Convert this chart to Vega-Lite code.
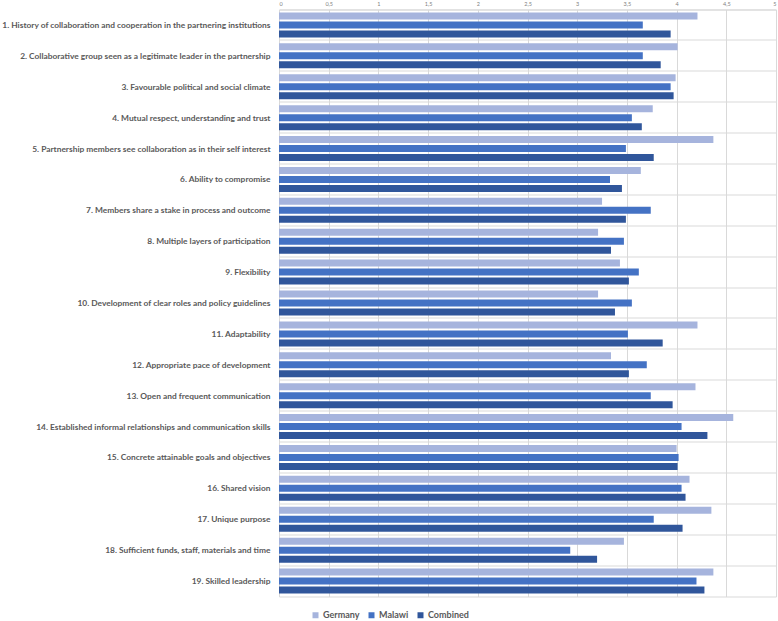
{
  "$schema": "https://vega.github.io/schema/vega-lite/v6.json",
  "autosize": {"type": "none"},
  "width": 497,
  "height": 587,
  "padding": {"left": 279, "top": 9.5, "right": 2, "bottom": 24.5},
  "background": "white",
  "config": {
    "view": {"stroke": "#d9d9d9", "strokeWidth": 1},
    "font": "Lato"
  },
  "data": {
    "values": [
      {"factor": "1. History of collaboration and cooperation in the partnering institutions", "group": "Germany", "score": 4.21},
      {"factor": "1. History of collaboration and cooperation in the partnering institutions", "group": "Malawi", "score": 3.66},
      {"factor": "1. History of collaboration and cooperation in the partnering institutions", "group": "Combined", "score": 3.94},
      {"factor": "2. Collaborative group seen as a legitimate leader in the partnership", "group": "Germany", "score": 4.01},
      {"factor": "2. Collaborative group seen as a legitimate leader in the partnership", "group": "Malawi", "score": 3.66},
      {"factor": "2. Collaborative group seen as a legitimate leader in the partnership", "group": "Combined", "score": 3.84},
      {"factor": "3. Favourable political and social climate", "group": "Germany", "score": 3.99},
      {"factor": "3. Favourable political and social climate", "group": "Malawi", "score": 3.94},
      {"factor": "3. Favourable political and social climate", "group": "Combined", "score": 3.97},
      {"factor": "4. Mutual respect, understanding and trust", "group": "Germany", "score": 3.76},
      {"factor": "4. Mutual respect, understanding and trust", "group": "Malawi", "score": 3.55},
      {"factor": "4. Mutual respect, understanding and trust", "group": "Combined", "score": 3.65},
      {"factor": "5. Partnership members see collaboration as in their self interest", "group": "Germany", "score": 4.37},
      {"factor": "5. Partnership members see collaboration as in their self interest", "group": "Malawi", "score": 3.49},
      {"factor": "5. Partnership members see collaboration as in their self interest", "group": "Combined", "score": 3.77},
      {"factor": "6. Ability to compromise", "group": "Germany", "score": 3.64},
      {"factor": "6. Ability to compromise", "group": "Malawi", "score": 3.33},
      {"factor": "6. Ability to compromise", "group": "Combined", "score": 3.45},
      {"factor": "7. Members share a stake in process and outcome", "group": "Germany", "score": 3.25},
      {"factor": "7. Members share a stake in process and outcome", "group": "Malawi", "score": 3.74},
      {"factor": "7. Members share a stake in process and outcome", "group": "Combined", "score": 3.49},
      {"factor": "8. Multiple layers of participation", "group": "Germany", "score": 3.21},
      {"factor": "8. Multiple layers of participation", "group": "Malawi", "score": 3.47},
      {"factor": "8. Multiple layers of participation", "group": "Combined", "score": 3.34},
      {"factor": "9. Flexibility", "group": "Germany", "score": 3.43},
      {"factor": "9. Flexibility", "group": "Malawi", "score": 3.62},
      {"factor": "9. Flexibility", "group": "Combined", "score": 3.52},
      {"factor": "10. Development of clear roles and policy guidelines", "group": "Germany", "score": 3.21},
      {"factor": "10. Development of clear roles and policy guidelines", "group": "Malawi", "score": 3.55},
      {"factor": "10. Development of clear roles and policy guidelines", "group": "Combined", "score": 3.38},
      {"factor": "11. Adaptability", "group": "Germany", "score": 4.21},
      {"factor": "11. Adaptability", "group": "Malawi", "score": 3.51},
      {"factor": "11. Adaptability", "group": "Combined", "score": 3.86},
      {"factor": "12. Appropriate pace of development", "group": "Germany", "score": 3.34},
      {"factor": "12. Appropriate pace of development", "group": "Malawi", "score": 3.70},
      {"factor": "12. Appropriate pace of development", "group": "Combined", "score": 3.52},
      {"factor": "13. Open and frequent communication", "group": "Germany", "score": 4.19},
      {"factor": "13. Open and frequent communication", "group": "Malawi", "score": 3.74},
      {"factor": "13. Open and frequent communication", "group": "Combined", "score": 3.96},
      {"factor": "14. Established informal relationships and communication skills", "group": "Germany", "score": 4.57},
      {"factor": "14. Established informal relationships and communication skills", "group": "Malawi", "score": 4.05},
      {"factor": "14. Established informal relationships and communication skills", "group": "Combined", "score": 4.31},
      {"factor": "15. Concrete attainable goals and objectives", "group": "Germany", "score": 4.00},
      {"factor": "15. Concrete attainable goals and objectives", "group": "Malawi", "score": 4.02},
      {"factor": "15. Concrete attainable goals and objectives", "group": "Combined", "score": 4.01},
      {"factor": "16. Shared vision", "group": "Germany", "score": 4.13},
      {"factor": "16. Shared vision", "group": "Malawi", "score": 4.05},
      {"factor": "16. Shared vision", "group": "Combined", "score": 4.09},
      {"factor": "17. Unique purpose", "group": "Germany", "score": 4.35},
      {"factor": "17. Unique purpose", "group": "Malawi", "score": 3.77},
      {"factor": "17. Unique purpose", "group": "Combined", "score": 4.06},
      {"factor": "18. Sufficient funds, staff, materials and time", "group": "Germany", "score": 3.47},
      {"factor": "18. Sufficient funds, staff, materials and time", "group": "Malawi", "score": 2.93},
      {"factor": "18. Sufficient funds, staff, materials and time", "group": "Combined", "score": 3.20},
      {"factor": "19. Skilled leadership", "group": "Germany", "score": 4.37},
      {"factor": "19. Skilled leadership", "group": "Malawi", "score": 4.20},
      {"factor": "19. Skilled leadership", "group": "Combined", "score": 4.28}
    ]
  },
  "mark": {"type": "bar"},
  "encoding": {
    "y": {
      "field": "factor",
      "type": "nominal",
      "sort": null,
      "scale": {"paddingInner": 0, "paddingOuter": 0},
      "axis": {
        "title": null,
        "bandPosition": 0,
        "grid": true,
        "gridColor": "#d9d9d9",
        "gridWidth": 1,
        "domain": false,
        "ticks": false,
        "labelOffset": 0,
        "labelPadding": 9,
        "labelLimit": 0,
        "labelFont": "Lato",
        "labelFontWeight": "bold",
        "labelFontSize": 8.4,
        "labelColor": "#595959"
      }
    },
    "yOffset": {
      "field": "group",
      "type": "nominal",
      "sort": ["Germany", "Malawi", "Combined"],
      "scale": {"paddingInner": 0.222, "paddingOuter": 0.328}
    },
    "x": {
      "field": "score",
      "type": "quantitative",
      "scale": {"domain": [0, 5], "nice": false},
      "axis": {
        "orient": "top",
        "title": null,
        "values": [0, 0.5, 1, 1.5, 2, 2.5, 3, 3.5, 4, 4.5, 5],
        "labelExpr": "replace(toString(datum.value), '.', ',')",
        "grid": true,
        "gridColor": "#d9d9d9",
        "domain": false,
        "ticks": false,
        "labelPadding": 3,
        "labelFontSize": 5.5,
        "labelColor": "#7f7f7f",
        "labelFont": "Lato"
      }
    },
    "color": {
      "field": "group",
      "type": "nominal",
      "scale": {
        "domain": ["Germany", "Malawi", "Combined"],
        "range": ["#a6b4dd", "#4472c4", "#30569b"]
      },
      "legend": {
        "title": null,
        "orient": "none",
        "direction": "horizontal",
        "legendX": 32,
        "legendY": 601,
        "padding": 0,
        "symbolType": "square",
        "symbolSize": 36,
        "symbolStrokeWidth": 0,
        "columnPadding": 7,
        "labelFont": "Lato",
        "labelFontWeight": "bold",
        "labelFontSize": 9,
        "labelColor": "#595959",
        "labelOffset": 3
      }
    }
  }
}
